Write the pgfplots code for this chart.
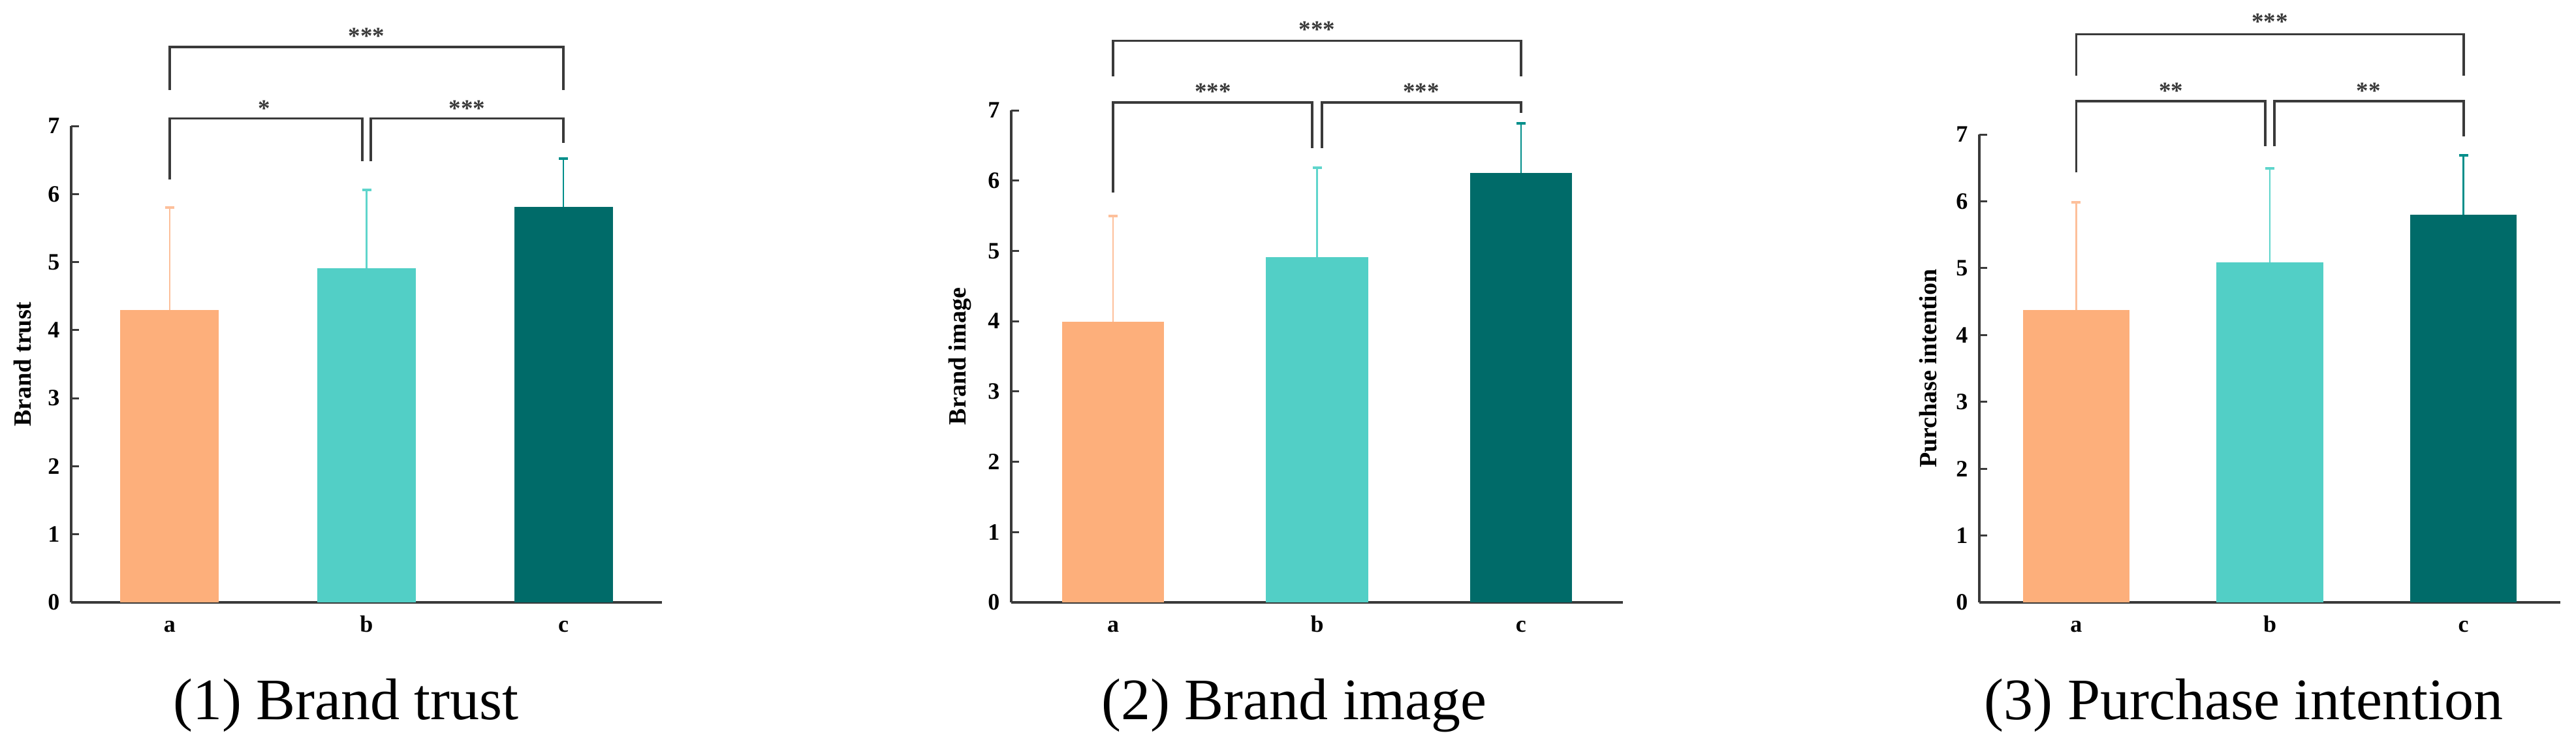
\documentclass[border=0pt]{standalone}
\usepackage{pgfplots}
\pgfplotsset{compat=1.18}
\usepackage{fontspec}
\setmainfont{Liberation Serif}
\definecolor{cA}{HTML}{FDAF7B}
\definecolor{cB}{HTML}{52CFC6}
\definecolor{cC}{HTML}{006B69}
\definecolor{eA}{HTML}{FDC09B}
\definecolor{eB}{HTML}{5FD5CC}
\definecolor{eC}{HTML}{008E8A}
\definecolor{axisgray}{HTML}{3A3A3A}
\definecolor{brkgray}{HTML}{3A3A3A}
\tikzset{stars/.style={font=\fontsize{7.4}{8}\selectfont\bfseries, text=brkgray, anchor=center, inner sep=0pt}}
\pgfplotsset{
  panel/.style={
    scale only axis, clip=false,
    axis lines*=left,
    xmin=-0.5, xmax=2.5, ymin=0, ymax=7,
    xtick={0,1,2}, xticklabels={a,b,c},
    ytick={0,1,2,3,4,5,6,7},
    tick align=inside,
    major tick length=2.4pt,
    xtick style={draw=none},
    ytick style={line width=0.6pt, color=axisgray},
    axis line style={line width=0.7pt, color=axisgray},
    tick label style={font=\fontsize{7.2}{8}\selectfont\bfseries},
    /pgf/number format/assume math mode=true,
    xticklabel style={anchor=base, yshift=-9pt},
    ylabel style={font=\fontsize{7.6}{8}\selectfont\bfseries, at={(axis description cs:0,0.5)}, anchor=center},
  },
  brk/.style={line width=0.75pt, color=brkgray, mark=none, line join=miter},
  barA/.style={ybar, bar shift=0pt, fill=cA, draw=none,
    error bars/.cd, y dir=plus, y explicit,
    error bar style={line width=0.5pt, eA},
    error mark options={rotate=90, mark size=1.4pt, line width=0.8pt, eA}},
  barB/.style={ybar, bar shift=0pt, fill=cB, draw=none,
    error bars/.cd, y dir=plus, y explicit,
    error bar style={line width=0.5pt, eB},
    error mark options={rotate=90, mark size=1.4pt, line width=0.8pt, eB}},
  barC/.style={ybar, bar shift=0pt, fill=cC, draw=none,
    error bars/.cd, y dir=plus, y explicit,
    error bar style={line width=0.5pt, eC},
    error mark options={rotate=90, mark size=1.4pt, line width=0.8pt, eC}},
}
\begin{document}
\begin{tikzpicture}
\useasboundingbox (0,0) rectangle (789.2pt,227.8pt);

% Panel 1
\begin{axis}[panel, at={(21.8pt,43.2pt)}, anchor=south west,
  width=181pt, height=146pt, ylabel={Brand trust}, ylabel style={yshift=14.8pt}]
\addplot[bar width=0.5, barA] coordinates {(0,4.30) +- (0,1.50)};
\addplot[bar width=0.5, barB] coordinates {(1,4.91) +- (0,1.15)};
\addplot[bar width=0.5, barC] coordinates {(2,5.81) +- (0,0.71)};
\addplot[brk] coordinates {(0,6.21) (0,7.11) (0.978,7.11) (0.978,6.48)};
\addplot[brk] coordinates {(1.022,6.48) (1.022,7.11) (2,7.11) (2,6.75)};
\addplot[brk] coordinates {(0,7.53) (0,8.16) (2,8.16) (2,7.53)};
\node[stars] at (axis cs:0.48,7.26) {*};
\node[stars] at (axis cs:1.51,7.26) {***};
\node[stars] at (axis cs:1.0,8.32) {***};
\end{axis}

% Panel 2
\begin{axis}[panel, at={(309.8pt,43.2pt)}, anchor=south west,
  width=187.4pt, height=150.8pt, ylabel={Brand image}, ylabel style={yshift=15.8pt}]
\addplot[bar width=0.5, barA] coordinates {(0,3.99) +- (0,1.51)};
\addplot[bar width=0.5, barB] coordinates {(1,4.91) +- (0,1.27)};
\addplot[bar width=0.5, barC] coordinates {(2,6.11) +- (0,0.70)};
\addplot[brk] coordinates {(0,5.83) (0,7.11) (0.976,7.11) (0.976,6.46)};
\addplot[brk] coordinates {(1.024,6.46) (1.024,7.11) (2,7.11) (2,6.96)};
\addplot[brk] coordinates {(0,7.48) (0,7.99) (2,7.99) (2,7.48)};
\node[stars] at (axis cs:0.49,7.27) {***};
\node[stars] at (axis cs:1.51,7.27) {***};
\node[stars] at (axis cs:1.0,8.15) {***};
\end{axis}

% Panel 3
\begin{axis}[panel, at={(606.4pt,43.2pt)}, anchor=south west,
  width=178pt, height=143.4pt, ylabel={Purchase intention}, ylabel style={yshift=15.6pt}]
\addplot[bar width=0.55, barA] coordinates {(0,4.37) +- (0,1.61)};
\addplot[bar width=0.55, barB] coordinates {(1,5.09) +- (0,1.40)};
\addplot[bar width=0.55, barC] coordinates {(2,5.80) +- (0,0.89)};
\addplot[brk] coordinates {(0,6.43) (0,7.50) (0.976,7.50) (0.976,6.82)};
\addplot[brk] coordinates {(1.024,6.82) (1.024,7.50) (2,7.50) (2,6.97)};
\addplot[brk] coordinates {(0,7.88) (0,8.50) (2,8.50) (2,7.88)};
\node[stars] at (axis cs:0.49,7.65) {**};
\node[stars] at (axis cs:1.51,7.65) {**};
\node[stars] at (axis cs:1.0,8.69) {***};
\end{axis}

\node[anchor=base, font=\fontsize{18}{20}\selectfont] at (106pt,7.4pt) {(1) Brand trust};
\node[anchor=base, font=\fontsize{18}{20}\selectfont] at (396.4pt,7.4pt) {(2) Brand image};
\node[anchor=base, font=\fontsize{18}{20}\selectfont] at (687.4pt,7.4pt) {(3) Purchase intention};
\end{tikzpicture}
\end{document}
